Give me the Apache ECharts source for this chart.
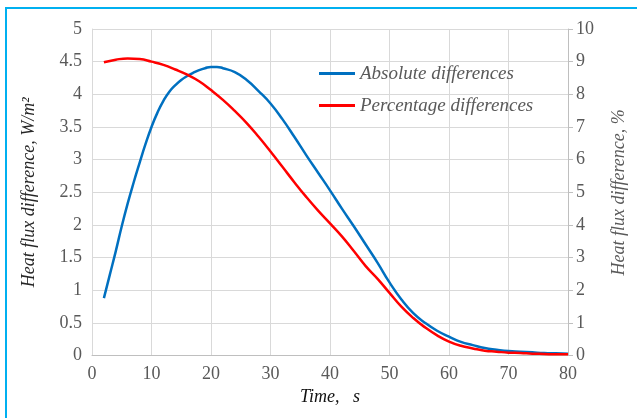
<!DOCTYPE html>
<html>
<head>
<meta charset="utf-8">
<script src="https://cdn.jsdelivr.net/npm/echarts@6/dist/echarts.min.js"></script>
<style>html,body{margin:0;padding:0;background:#fff}#c{width:637px;height:418px}</style>
</head>
<body>
<div id="c"></div>
<script>
const timeAbs = [2,3,4,5,6,7,8,9,10,11,12,13,14,15,16,17,18,19,20,21,22,24,26,28,30,32,34,36,38,40,42,44,46,48,50,52,54,56,58,60,62,64,66,68,70,72,74,76,78,80];
const absDiff = [0.88,1.24,1.6,1.98,2.33,2.65,2.95,3.24,3.5,3.72,3.9,4.04,4.14,4.22,4.28,4.33,4.37,4.4,4.42,4.42,4.4,4.34,4.22,4.05,3.86,3.62,3.35,3.07,2.8,2.53,2.25,1.98,1.7,1.42,1.12,0.86,0.65,0.5,0.38,0.29,0.21,0.16,0.115,0.09,0.07,0.06,0.05,0.04,0.035,0.03];
const timePct = [2,4,6,8,10,12,14,16,18,20,22,24,26,28,30,32,34,36,38,40,42,44,46,48,50,52,54,56,58,60,62,64,66,68,70,72,74,76,78,80];
const pctDiff = [8.98,9.06,9.1,9.08,9.0,8.9,8.76,8.6,8.4,8.13,7.83,7.49,7.12,6.7,6.25,5.78,5.31,4.86,4.44,4.05,3.65,3.2,2.74,2.35,1.92,1.5,1.15,0.86,0.62,0.43,0.3,0.22,0.15,0.12,0.09,0.08,0.06,0.05,0.04,0.04];
const seriesNames = ['Absolute differences','Percentage differences'];
const xName = 'Time,   s';
const yLeftName = 'Heat flux difference, W/m²';
const yRightName = 'Heat flux difference, %';

const font = '"Liberation Serif", "Times New Roman", serif';
const labelColor = '#595959';
const fs = 18;
const chart = echarts.init(document.getElementById('c'));
chart.setOption({
  animation: false,
  backgroundColor: '#fff',
  grid: {left: 92, right: 69, top: 29, bottom: 62.4},
  graphic: [{type: 'rect', shape: {x: 6, y: 8, width: 700, height: 500}, style: {fill: 'none', stroke: '#00B0F0', lineWidth: 2}}],
  legend: {
    orient: 'vertical', left: 314, top: 59, itemGap: 13,
    itemWidth: 36, itemHeight: 3, icon: 'rect',
    textStyle: {fontFamily: font, fontStyle: 'italic', fontSize: 19, color: labelColor},
    data: seriesNames
  },
  xAxis: {
    type: 'value', min: 0, max: 80, interval: 10,
    name: xName, nameLocation: 'middle', nameGap: 32,
    nameTextStyle: {fontFamily: font, fontStyle: 'italic', fontSize: fs, color: '#111'},
    axisLine: {show: true, lineStyle: {color: '#bfbfbf', width: 1}},
    axisTick: {show: false},
    axisLabel: {fontFamily: font, fontSize: fs, color: labelColor, margin: 10},
    splitLine: {show: true, lineStyle: {color: '#d9d9d9', width: 1}}
  },
  yAxis: [{
    type: 'value', min: 0, max: 5, interval: 0.5, position: 'left',
    name: yLeftName, nameLocation: 'middle', nameGap: 54, nameRotate: 90,
    nameTextStyle: {fontFamily: font, fontStyle: 'italic', fontSize: fs, color: '#262626'},
    axisLine: {show: true, lineStyle: {color: '#d9d9d9'}},
    axisTick: {show: false},
    axisLabel: {fontFamily: font, fontSize: fs, color: labelColor, margin: 10},
    splitLine: {show: true, lineStyle: {color: '#d9d9d9', width: 1}}
  }, {
    type: 'value', min: 0, max: 10, interval: 1, position: 'right',
    name: yRightName, nameLocation: 'middle', nameGap: 42, nameRotate: 90,
    nameTextStyle: {fontFamily: font, fontStyle: 'italic', fontSize: fs, color: labelColor},
    axisLine: {show: true, lineStyle: {color: '#bfbfbf'}},
    axisTick: {show: true, length: 5, lineStyle: {color: '#bfbfbf'}},
    axisLabel: {fontFamily: font, fontSize: fs, color: labelColor, margin: 8},
    splitLine: {show: false}
  }],
  series: [{
    name: seriesNames[0], type: 'line', yAxisIndex: 0, smooth: 0.5, showSymbol: false,
    lineStyle: {color: '#0070C0', width: 2.5}, itemStyle: {color: '#0070C0'},
    data: timeAbs.map((t, i) => [t, absDiff[i]])
  }, {
    name: seriesNames[1], type: 'line', yAxisIndex: 1, smooth: 0.5, showSymbol: false,
    lineStyle: {color: '#FF0000', width: 2.5}, itemStyle: {color: '#FF0000'},
    data: timePct.map((t, i) => [t, pctDiff[i]])
  }]
});
</script>
</body>
</html>
